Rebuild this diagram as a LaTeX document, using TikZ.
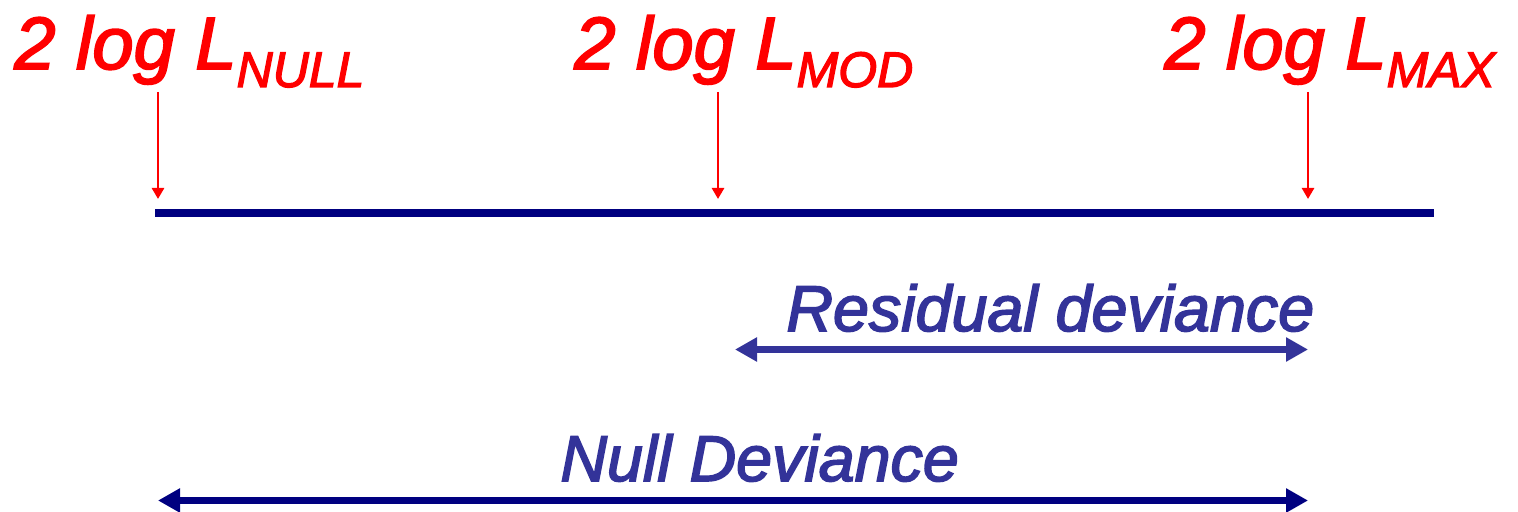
\documentclass[tikz,border=0pt]{standalone}
\usepackage{fontspec}
\setmainfont{Liberation Sans}
\newfontfamily\dlfont{Liberation Sans Italic}[FakeBold=2.5]
\usepackage{xcolor}
\usetikzlibrary{arrows.meta}

\definecolor{lred}{HTML}{FF0000}
\definecolor{lnavy}{HTML}{000080}
\definecolor{lblue}{HTML}{333399}

\newcommand{\lsub}[1]{\raisebox{-9pt}{\fontsize{25}{25}\selectfont #1}}

\tikzset{
	lbl/.style={anchor=base west,inner sep=0,text=lred,font=\dlfont\fontsize{37}{37}\selectfont},
	devlbl/.style={anchor=base west,inner sep=0,text=lblue,font=\dlfont\fontsize{32.3}{32}\selectfont},
	pick/.style={draw=lred,line width=1.3pt,-{Triangle[length=5.5pt,width=6pt]}},
	span/.style={line width=3.5pt,{Triangle[length=11pt,width=11.5pt]}-{Triangle[length=11pt,width=11.5pt]}}
}

\begin{document}
\begin{tikzpicture}[x=0.5pt,y=-0.5pt]
			\useasboundingbox (0,0) rectangle (1518,512);
			% the scale
			\coordinate (s0) at (155,213);
			\coordinate (s1) at (1434,213);
			\draw[lnavy,line width=3.8pt] (s0)--(s1);
			% labels over the scale
			\node[lbl] (lnull) at (14,69) {2 log L\lsub{NULL}};
			\node[lbl] (lmod) at (574,69) {2 log L\lsub{MOD}};
			\node[lbl] (lmax) at (1164,69) {2 log L\lsub{MAX}};
			\coordinate (pnull) at (158,92);
			\coordinate (pmod) at (718,92);
			\coordinate (pmax) at (1308,92);
			\draw[pick] (pnull)--++(0,107);
			\draw[pick] (pmod)--++(0,107);
			\draw[pick] (pmax)--++(0,107);
			% deviances
			\node[devlbl] (res) at (786,331) {Residual deviance};
			\coordinate (r0) at (735,349.5);
			\coordinate (r1) at (1308,349.5);
			\draw[span,lblue] (r0)--(r1);
			\node[devlbl] (nul) at (560,481) {Null Deviance};
			\coordinate (n0) at (158,500.5);
			\coordinate (n1) at (1308,500.5);
			\draw[span,lnavy] (n0)--(n1);
		\end{tikzpicture}
\end{document}
